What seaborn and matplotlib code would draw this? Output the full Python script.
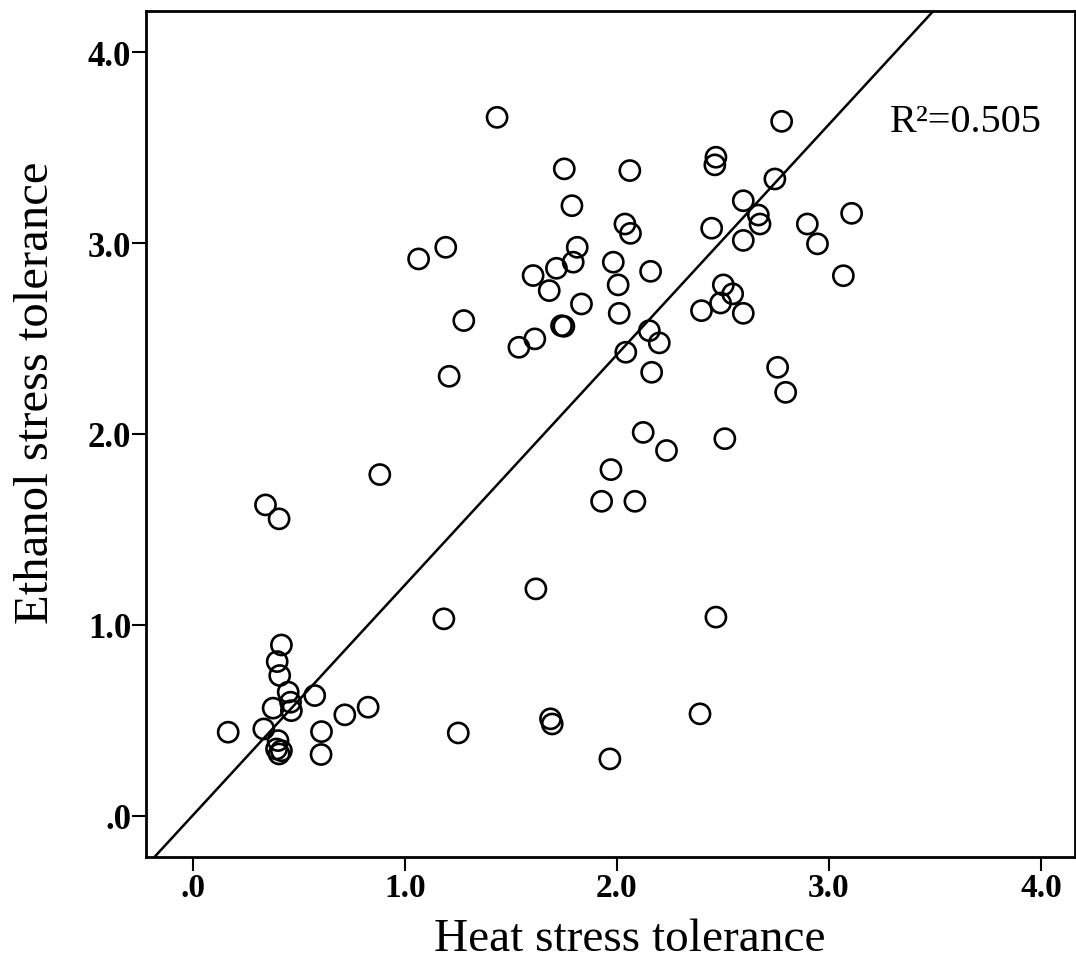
import matplotlib
matplotlib.use("Agg")
import matplotlib.pyplot as plt
import seaborn as sns
import pandas as pd

# heat vs ethanol stress tolerance
heat = [1.435, 1.752, 1.788, 1.193, 1.065, 1.813, 1.794, 1.715, 1.605, 1.681,
        1.833, 1.278, 1.739, 1.750, 1.613, 1.538, 1.209,
        2.777, 2.061, 2.467, 2.462, 2.745, 2.596, 2.667, 2.675, 3.107, 2.898,
        2.946, 2.038, 2.064, 2.447, 2.596, 3.068, 1.983, 2.006, 2.159, 2.011,
        2.502, 2.546, 2.489, 2.399, 2.596, 2.153, 2.200, 2.042, 2.164, 2.758,
        2.796, 2.124, 2.509, 2.234, 1.972, 1.928, 2.085, 2.467, 2.392, 1.967,
        0.882, 0.343, 0.407, 1.618, 1.184, 0.418, 0.398, 0.410, 0.450, 0.461,
        0.465, 0.379, 0.335, 0.575, 0.827, 0.717, 0.167, 0.607, 0.605, 0.402,
        0.395, 0.407, 0.418, 1.252, 1.687, 1.695]
ethanol = [3.659, 3.389, 3.196, 2.978, 2.917, 2.978, 2.900, 2.868, 2.830, 2.751,
           2.681, 2.594, 2.567, 2.564, 2.498, 2.454, 2.302,
           3.638, 3.380, 3.450, 3.410, 3.336, 3.222, 3.147, 3.100, 3.156, 3.100,
           2.996, 3.100, 3.051, 3.078, 3.014, 2.829, 2.900, 2.781, 2.852, 2.632,
           2.781, 2.734, 2.686, 2.646, 2.632, 2.541, 2.477, 2.428, 2.323, 2.349,
           2.218, 2.008, 1.975, 1.913, 1.813, 1.647, 1.647, 1.040, 0.533, 0.297,
           1.787, 1.628, 1.555, 1.188, 1.031, 0.894, 0.807, 0.734, 0.647, 0.594,
           0.550, 0.563, 0.454, 0.629, 0.568, 0.528, 0.437, 0.440, 0.320, 0.393,
           0.349, 0.323, 0.340, 0.433, 0.507, 0.480]

# linear fit shown in the figure
fit_intercept = 0.001
fit_slope = 1.207
r2_label = "R\u00b2=0.505"

ticks = [0, 1, 2, 3, 4]
tick_labels = [".0", "1.0", "2.0", "3.0", "4.0"]

df = pd.DataFrame({"heat": heat, "ethanol": ethanol})

sns.set_theme(style="white")
plt.rcParams["font.family"] = ["Liberation Serif", "DejaVu Serif"]
plt.rcParams["text.color"] = "black"
plt.rcParams["axes.labelcolor"] = "black"
plt.rcParams["xtick.color"] = "black"
plt.rcParams["ytick.color"] = "black"

fig = plt.figure(figsize=(10.76, 9.79), dpi=100)
ax = fig.add_axes([0.136, 0.124, 0.863, 0.8635])

sns.scatterplot(data=df, x="heat", y="ethanol", ax=ax, marker="o", s=210,
                facecolors="none", edgecolor="black", linewidth=1.9, zorder=3)

ax.axline((0, fit_intercept), slope=fit_slope, color="black", lw=1.8, zorder=2)

ax.text(3.288, 3.589, r2_label, fontsize=29, color="black", ha="left", va="baseline")

ax.set_xlim(-0.219, 4.16)
ax.set_ylim(-0.215, 4.215)
ax.set_xticks(ticks)
ax.set_xticklabels(tick_labels, fontsize=24, fontweight="bold")
ax.set_yticks(ticks)
ax.set_yticklabels(tick_labels, fontsize=25, fontweight="bold")
ax.tick_params(axis="both", direction="out", length=10, width=1.5, colors="black",
               left=True, bottom=True, pad=1)

for sp in ax.spines.values():
    sp.set_visible(True)
    sp.set_color("black")
    sp.set_linewidth(2)

ax.set_xlabel("Heat stress tolerance", fontsize=34, color="black")
ax.set_ylabel("Ethanol stress tolerance", fontsize=35, color="black")
ax.xaxis.set_label_coords(0.521, -0.072)
ax.yaxis.set_label_coords(-0.095, 0.55)

fig.savefig("out.png", dpi=100)
